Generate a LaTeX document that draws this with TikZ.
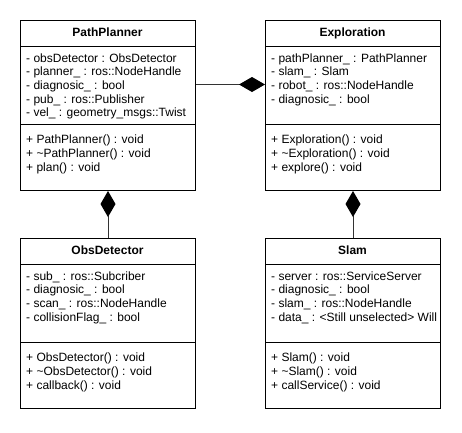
\documentclass[tikz,border=0pt]{standalone}
\usepackage{fontspec}
\setmainfont{Liberation Sans}
\usetikzlibrary{arrows.meta}
\newcommand\umlclass[6]{%
  \node[classbox] (#1) at (#2,#3) {};
  \node[title] (#1-title) at (#2+87.5,#3+16.4) {#4};
  \draw[sepline] (#1.west |- 0,#3+26) -- (#1.east |- 0,#3+26);
  \draw[sepline] (#1.west |- 0,#3+104) -- (#1.east |- 0,#3+104);
  \foreach \t [count=\i] in {#5} \node[member] (#1-a\i) at (#2+6,#3+42+13.7*\i-13.7) {\t};
  \foreach \t [count=\i] in {#6} \node[member] (#1-m\i) at (#2+6,#3+123.7+13.7*\i-13.7) {\t};
}
\begin{document}
\begin{tikzpicture}[x=1pt,y=-1pt,
  classbox/.style={draw=black, line width=1pt, minimum width=175pt, minimum height=170pt, anchor=north west, inner sep=0pt, fill=white},
  title/.style={font=\fontsize{12}{13.7}\selectfont\bfseries, anchor=base, inner sep=0pt},
  member/.style={font=\fontsize{12}{13.7}\selectfont, anchor=base west, inner sep=0pt},
  sepline/.style={line width=1pt, draw=black},
  comp/.style={draw=black!80, line width=1pt, -{Diamond[length=26pt,width=15pt,fill=black,black]}}]
\fill[white] (0,0) rectangle (462,432);
\useasboundingbox (0,0) rectangle (462,432);

\umlclass{pp}{20}{20}{PathPlanner}
  {{- obsDetector : ObsDetector},{- planner\_ : ros::NodeHandle},{- diagnosic\_ : bool},{- pub\_ : ros::Publisher},{- vel\_ : geometry\_msgs::Twist}}
  {{+ PathPlanner() : void},{+ \textasciitilde PathPlanner() : void},{+ plan() : void}}

\umlclass{ex}{265}{20}{Exploration}
  {{- pathPlanner\_ : PathPlanner},{- slam\_ : Slam},{- robot\_ : ros::NodeHandle},{- diagnosic\_ : bool}}
  {{+ Exploration() : void},{+ \textasciitilde Exploration() : void},{+ explore() : void}}

\umlclass{obs}{20}{238}{ObsDetector}
  {{- sub\_ : ros::Subcriber},{- diagnosic\_ : bool},{- scan\_ : ros::NodeHandle},{- collisionFlag\_ : bool}}
  {{+ ObsDetector() : void},{+ \textasciitilde ObsDetector() : void},{+ callback() : void}}

\umlclass{slam}{265}{238}{Slam}
  {{- server : ros::ServiceServer},{- diagnosic\_ : bool},{- slam\_ : ros::NodeHandle},{- data\_ : <Still unselected> Will}}
  {{+ Slam() : void},{+ \textasciitilde Slam() : void},{+ callService() : void}}

\draw[comp] ([yshift=21pt]pp.east) -- ([yshift=21pt]ex.west);
\draw[comp] (obs.north) -- (pp.south);
\draw[comp] (slam.north) -- (ex.south);
\end{tikzpicture}
\end{document}
